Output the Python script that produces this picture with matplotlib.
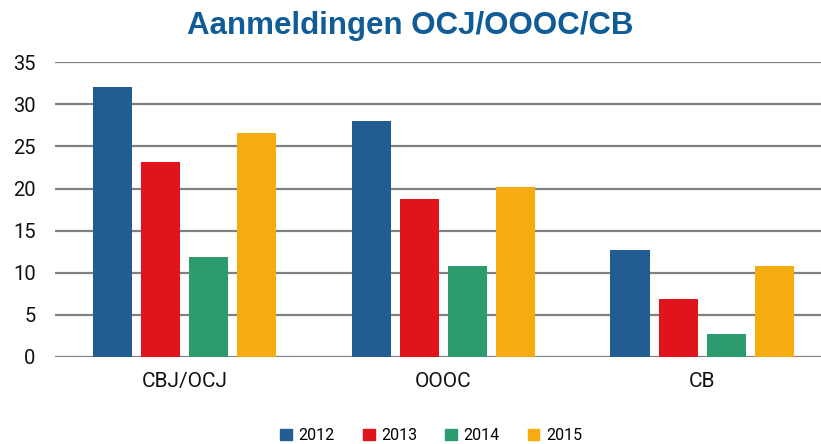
import numpy as np
from matplotlib import pyplot as plt
from matplotlib.patches import Patch

categories = ["CBJ/OCJ", "OOOC", "CB"]
years = ["2012", "2013", "2014", "2015"]
values_2012 = [32.0, 28.0, 12.7]
values_2013 = [23.1, 18.8, 6.9]
values_2014 = [11.9, 10.8, 2.7]
values_2015 = [26.6, 20.2, 10.8]
colors = ["#215d93", "#e2141b", "#2c9c6e", "#f5ac11"]

series = [values_2012, values_2013, values_2014, values_2015]

fig = plt.figure(figsize=(8.21, 4.44), dpi=100)
# axes runs a little past the right edge, as in the original
ax = fig.add_axes([0.067, 0.196, 0.946, 0.664])

x = np.arange(len(categories))
step = 0.186
width = 0.151
for i, vals in enumerate(series):
    ax.bar(x + (i - 1.5) * step, vals, width, color=colors[i], zorder=3)

ax.set_xlim(-0.5, len(categories) - 0.5)
ax.set_ylim(0, 35)
ax.set_yticks(range(0, 36, 5))
ax.yaxis.grid(True, color="#808080", linewidth=1.6, zorder=0)
for s in ax.spines.values():
    s.set_visible(False)
ax.tick_params(axis="both", length=0)
ax.tick_params(axis="y", labelsize=14.5, pad=14)
ax.tick_params(axis="x", labelsize=15, pad=11)
ax.set_xticks(x)
ax.set_xticklabels(categories)
for lab in ax.get_xticklabels() + ax.get_yticklabels():
    lab.set_family("Roboto")
    lab.set_color("#111111")

fig.suptitle("Aanmeldingen OCJ/OOOC/CB", x=0.5, y=0.975, fontsize=22.5,
             fontweight="bold", color="#0f5c96", family="Liberation Sans")

handles = [Patch(color=c, label=y) for c, y in zip(colors, years)]
fig.legend(handles=handles, loc="lower center", ncol=4, frameon=False,
           bbox_to_anchor=(0.525, -0.03), prop={"family": "Roboto", "size": 11.5},
           handlelength=0.75, handleheight=0.75, handletextpad=0.4, columnspacing=1.75)

fig.savefig("out.png", dpi=100)
